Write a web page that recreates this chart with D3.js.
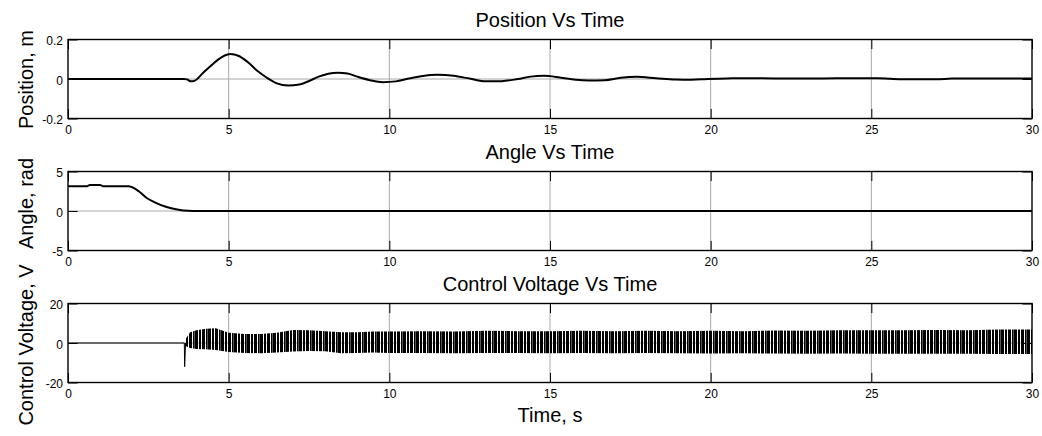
<!DOCTYPE html>
<html>
<head>
<meta charset="utf-8">
<script src="https://cdn.jsdelivr.net/npm/d3@7"></script>
<style>
body { margin: 0; background: #fff; }
text { font-family: "Liberation Sans", Arial, sans-serif; }
</style>
</head>
<body>
<svg id="chart" width="1042" height="436"></svg>
<script>
// shared time axis
var timeTicks = [0, 5, 10, 15, 20, 25, 30];

// cart position, m
var posTime  = [0,3.6,3.7,3.82,3.95,4.2,4.5,4.8,5.05,5.3,5.6,5.9,6.2,6.5,6.85,7.2,7.5,7.8,8.1,8.4,8.7,9.0,9.4,9.8,10.2,10.6,11.0,11.5,12.0,12.5,13.0,13.5,14.0,14.4,14.8,15.3,15.8,16.2,16.7,17.2,17.7,18.3,18.9,19.4,19.9,20.5,21.5,22.5,23.5,24.5,25.2,25.6,26.0,27.0,27.5,28.0,29.0,30.0];
var posValue = [0,0,-0.002,-0.012,-0.008,0.03,0.075,0.112,0.126,0.118,0.085,0.04,0.005,-0.022,-0.033,-0.028,-0.01,0.012,0.027,0.032,0.028,0.012,-0.006,-0.016,-0.012,0.002,0.014,0.021,0.016,0.002,-0.012,-0.011,0.0,0.012,0.016,0.008,-0.004,-0.008,-0.006,0.006,0.011,0.004,-0.003,-0.004,0.0,0.003,0.004,0.002,0.003,0.004,0.004,0.001,-0.001,-0.001,0.002,0.003,0.003,0.002];

// pendulum angle, rad
var angTime  = [0,0.6,0.68,1.0,1.08,1.88,2.0,2.2,2.45,2.7,3.07,3.4,3.74,3.9,30];
var angValue = [3.14,3.14,3.3,3.3,3.14,3.14,3.0,2.5,1.65,1.1,0.5,0.2,0.02,0,0];

// control voltage before the controller kicks in (incl. the first spike)
var voltTime  = [0, 3.62, 3.63, 3.66];
var voltValue = [0, 0, -12, 0];
// envelope of the fast switching afterwards, V
var bandTime = [3.66,3.8,4.0,4.3,4.6,5.0,5.5,6.0,6.5,7.0,7.5,8.0,8.5,9,9.5,10,11,12,13,14,15,16,17,18,19,20,21,22,23,24,25,26,27,28,29,30];
var bandHigh = [2,5.5,6.5,7.2,7.5,5.2,4.6,4.6,5.2,6.6,6.5,6.0,5.5,5.5,5.8,5.8,6.0,5.8,6.2,6.0,6.0,6.2,6.0,6.2,6.0,6.2,6.0,6.3,6.2,6.4,6.5,6.4,6.6,6.5,6.8,6.8];
var bandLow  = [-1.5,-2.5,-3,-3.2,-3.5,-4.5,-5,-5.2,-4.8,-4.3,-4,-4.2,-5.2,-5,-4.8,-5,-5,-5.2,-5,-5.1,-5.2,-5,-5.2,-5.1,-5.2,-5.3,-5.2,-5.3,-5.4,-5.3,-5.4,-5.5,-5.4,-5.5,-5.6,-5.6];

var titles  = ["Position Vs Time", "Angle Vs Time", "Control Voltage Vs Time"];
var yLabels = ["Position, m", "Angle, rad", "Control Voltage, V"];
var yTicks  = [[-0.2, 0, 0.2], [-5, 0, 5], [-20, 0, 20]];

var svg = d3.select("#chart");
var left = 68, right = 1032, top0 = 39.5, step = 132, ph = 79;
var labelY = [79.5, 203.5, 345];

var x = d3.scaleLinear().domain([0, 30]).range([left, right]);

// uneven stripes for the dense voltage band
var pat = svg.append("defs").append("pattern")
    .attr("id", "hatch")
    .attr("patternUnits", "userSpaceOnUse")
    .attr("width", 13).attr("height", 10);
[[0, 3], [4, 2], [7, 3], [11, 1]].forEach(function(r) {
    pat.append("rect").attr("x", r[0]).attr("width", r[1]).attr("height", 10).attr("fill", "#000");
});
pat.append("rect").attr("x", 12).attr("width", 1).attr("height", 10).attr("fill", "#555");

function zip(t, v) {
    return t.map(function(d, i) { return [d, v[i]]; });
}

var panels = [];

yTicks.forEach(function(ticks, i) {
    var top = top0 + i * step;
    var y = d3.scaleLinear().domain([ticks[0], ticks[2]]).range([top + ph, top]);
    panels.push(y);

    var g = svg.append("g");

    // grid
    g.selectAll("line.vgrid")
        .data(timeTicks.slice(1, -1))
        .enter().append("line")
        .attr("x1", function(d) { return x(d); })
        .attr("x2", function(d) { return x(d); })
        .attr("y1", top).attr("y2", top + ph)
        .attr("stroke", "#a8a8a8").attr("stroke-width", 1);
    g.append("line")
        .attr("x1", left).attr("x2", right)
        .attr("y1", y(0)).attr("y2", y(0))
        .attr("stroke", "#a8a8a8").attr("stroke-width", 1);

    // ticks, all pointing inward
    var ax = [
        d3.axisBottom(x).tickValues(timeTicks).tickFormat(d3.format("d")).tickPadding(7),
        d3.axisTop(x).tickValues(timeTicks).tickFormat(""),
        d3.axisLeft(y).tickValues(ticks).tickFormat(function(d) { return String(d); }).tickPadding(5),
        d3.axisRight(y).tickValues(ticks).tickFormat("")
    ];
    var pos = [[0, top + ph], [0, top], [left, 0], [right, 0]];
    ax.forEach(function(a, k) {
        a.tickSizeInner(-9.6).tickSizeOuter(0);
        var ga = g.append("g")
            .attr("transform", "translate(" + pos[k][0] + "," + pos[k][1] + ")")
            .call(a);
        ga.select(".domain").remove();
        ga.attr("font-size", 12).attr("font-family", null);
        ga.selectAll("line").attr("stroke", "#000");
        if (k == 2) ga.selectAll("text").attr("dy", "0.45em");
    });

    g.append("rect")
        .attr("x", left).attr("y", top)
        .attr("width", right - left).attr("height", ph)
        .attr("fill", "none").attr("stroke", "#000").attr("stroke-width", 1.4);

    g.append("text")
        .attr("x", (left + right) / 2).attr("y", top - 12.5)
        .attr("text-anchor", "middle").attr("font-size", 20)
        .text(titles[i]);

    g.append("text")
        .attr("transform", "translate(33," + labelY[i] + ") rotate(-90)")
        .attr("text-anchor", "middle").attr("font-size", 20)
        .text(yLabels[i]);
});

// data
var line = function(y, curve) {
    return d3.line()
        .x(function(d) { return x(d[0]); })
        .y(function(d) { return y(d[1]); })
        .curve(curve);
};

svg.append("path")
    .attr("d", line(panels[0], d3.curveMonotoneX)(zip(posTime, posValue)))
    .attr("fill", "none").attr("stroke", "#000").attr("stroke-width", 2);

svg.append("path")
    .attr("d", line(panels[1], d3.curveMonotoneX)(zip(angTime, angValue)))
    .attr("fill", "none").attr("stroke", "#000").attr("stroke-width", 2);

svg.append("path")
    .attr("d", line(panels[2], d3.curveLinear)(zip(voltTime, voltValue)))
    .attr("fill", "none").attr("stroke", "#000").attr("stroke-width", 1);

var band = d3.area()
    .x(function(d) { return x(d[0]); })
    .y0(function(d) { return panels[2](d[2]); })
    .y1(function(d) { return panels[2](d[1]); });

svg.append("path")
    .attr("d", band(bandTime.map(function(t, i) { return [t, bandHigh[i], bandLow[i]]; })))
    .attr("fill", "url(#hatch)");

svg.append("text")
    .attr("x", (left + right) / 2).attr("y", 421.5)
    .attr("text-anchor", "middle").attr("font-size", 20)
    .text("Time, s");
</script>
</body>
</html>
